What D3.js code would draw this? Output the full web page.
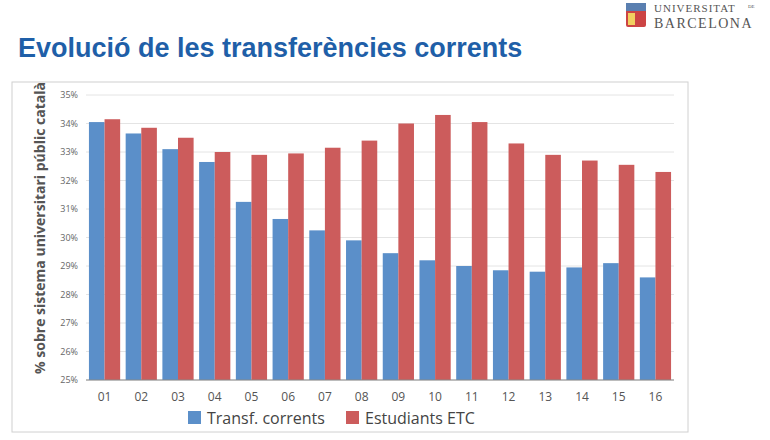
<!DOCTYPE html><html><head><meta charset="utf-8"><script src="https://cdn.jsdelivr.net/npm/d3@7"></script>
<style>body{margin:0;background:#fff}</style></head><body><svg id="c" width="770" height="440"></svg><script>
const categories=["01","02","03","04","05","06","07","08","09","10","11","12","13","14","15","16"];
const transf=[34.05,33.65,33.1,32.65,31.25,30.65,30.25,29.9,29.45,29.2,29.0,28.85,28.8,28.95,29.1,28.6];
const etc=[34.15,33.85,33.5,33.0,32.9,32.95,33.15,33.4,34.0,34.3,34.05,33.3,32.9,32.7,32.55,32.3];
const yTicks=[25,26,27,28,29,30,31,32,33,34,35];
const seriesNames=["Transf. corrents","Estudiants ETC"];
const colors=["#5b8fc9","#cc5c5c"];
const svg=d3.select("#c");
const lg=svg.append("g");
lg.append("rect").attr("x",626).attr("y",3).attr("width",20).attr("height",24).attr("fill","#c44").attr("rx",2);
lg.append("rect").attr("x",626).attr("y",3).attr("width",20).attr("height",8).attr("fill","#5a7fb0");
lg.append("rect").attr("x",628).attr("y",13).attr("width",7).attr("height",12).attr("fill","#f2d060");
lg.append("text").attr("x",654).attr("y",12).attr("font-family","Liberation Serif").attr("font-size",11).attr("fill","#555").attr("letter-spacing",1).text("UNIVERSITAT");
lg.append("text").attr("x",748).attr("y",8).attr("font-family","Liberation Serif").attr("font-size",5).attr("fill","#555").text("DE");
lg.append("text").attr("x",654).attr("y",28).attr("font-family","Liberation Serif").attr("font-size",14).attr("fill","#555").attr("letter-spacing",1.5).text("BARCELONA");
svg.append("text").attr("x",18).attr("y",57).attr("font-family","Liberation Sans, Arial").attr("font-weight","bold").attr("font-size",27).attr("fill","#1f5fa8").text("Evolució de les transferències corrents");
svg.append("rect").attr("x",12).attr("y",82).attr("width",676).attr("height",350).attr("fill","none").attr("stroke","#d0d0d0");
const x=d3.scaleBand().domain(categories).range([86,674]).paddingInner(0.15).paddingOuter(0.08);
const xs=d3.scaleBand().domain([0,1]).range([0,x.bandwidth()]);
const y=d3.scaleLinear().domain([25,35]).range([380,95]);
const g=svg.append("g");
g.selectAll(".gl").data(yTicks).join("line").attr("x1",86).attr("x2",674).attr("y1",d=>y(d)).attr("y2",d=>y(d)).attr("stroke","#e4e4e4");
[transf,etc].forEach((s,i)=>{
 g.selectAll(".b"+i).data(s).join("rect").attr("x",(d,j)=>x(categories[j])+xs(i)).attr("width",xs.bandwidth()).attr("y",d=>y(d)).attr("height",d=>y(25)-y(d)).attr("fill",colors[i]);
});
g.append("line").attr("x1",86).attr("x2",674).attr("y1",y(25)).attr("y2",y(25)).attr("stroke","#888");
const ya=svg.append("g").attr("transform","translate(86,0)").call(d3.axisLeft(y).tickValues(yTicks).tickFormat(d=>d+"%").tickSize(0).tickPadding(8));
ya.select(".domain").remove();ya.selectAll("text").attr("font-family","Open Sans").attr("font-size",9).attr("fill","#666");
const xa=svg.append("g").attr("transform","translate(0,380)").call(d3.axisBottom(x).tickSize(0).tickPadding(12));
xa.select(".domain").remove();xa.selectAll("text").attr("font-family","Open Sans").attr("font-size",12).attr("fill","#555");
svg.append("text").attr("transform","translate(45,228) rotate(-90)").attr("text-anchor","middle").attr("font-family","Open Sans").attr("font-weight","bold").attr("font-size",14).attr("fill","#555").text("% sobre sistema universitari públic català");
const leg=[[188,"Transf. corrents"],[346,"Estudiants ETC"]];
leg.forEach((l,i)=>{svg.append("rect").attr("x",l[0]).attr("y",411).attr("width",13).attr("height",13).attr("fill",colors[i]);
svg.append("text").attr("x",l[0]+19).attr("y",424).attr("font-family","Open Sans").attr("font-size",16).attr("fill","#444").text(seriesNames[i]);});
</script></body></html>
